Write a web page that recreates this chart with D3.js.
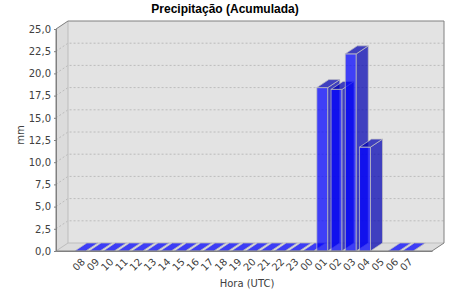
<!DOCTYPE html>
<html lang="pt">
<head>
<meta charset="UTF-8">
<title>Precipitação (Acumulada)</title>
<script src="https://d3js.org/d3.v7.min.js"></script>
<style>
  body { margin: 0; background: #fff; }
  svg text { font-family: "DejaVu Sans", sans-serif; }
</style>
</head>
<body>
<div id="chart"></div>
<script>
const horas = ["08","09","10","11","12","13","14","15","16","17","18","19","20","21","22","23","00","01","02","03","04","05","06","07"];
// 05 has no value (nothing drawn)
const precip = [0,0,0,0,0,0,0,0,0,0,0,0,0,0,0,0,0,18.4,18.2,22.2,11.7,null,0,0];
const yTicks = [0,2.5,5,7.5,10,12.5,15,17.5,20,22.5,25];

const W = 450, H = 300;
const dx = 12, dy = 8;                 // 3D offset
const pLeft = 56, pRight = 444, pTop = 21, pBottom = 251;

const svg = d3.select("#chart").append("svg")
    .attr("width", W)
    .attr("height", H);

const x = d3.scaleBand()
    .domain(horas)
    .range([pLeft, pRight - dx])
    .paddingInner(0.23)
    .paddingOuter(1.32);

const y = d3.scaleLinear()
    .domain([0, 25])
    .range([pBottom, pTop + dy]);

const pts = p => p.map(d => d.join(",")).join(" ");

// back wall, left wall, floor
svg.append("polygon")
    .attr("points", pts([[pLeft, pTop + dy], [pLeft + dx, pTop], [pRight, pTop], [pRight, pBottom - dy], [pRight - dx, pBottom], [pLeft, pBottom]]))
    .attr("fill", "#e3e3e3");
svg.append("polygon")
    .attr("points", pts([[pLeft, pTop + dy], [pLeft + dx, pTop], [pLeft + dx, pBottom - dy], [pLeft, pBottom]]))
    .attr("fill", "#dcdcdc");
svg.append("polygon")
    .attr("points", pts([[pLeft, pBottom], [pLeft + dx, pBottom - dy], [pRight, pBottom - dy], [pRight - dx, pBottom]]))
    .attr("fill", "#dcdcdc");

// gridlines on the back wall
svg.append("g").selectAll("path")
    .data(yTicks.filter(d => d > 0 && d < 25))
    .join("path")
    .attr("d", d => `M${pLeft},${y(d)}L${pLeft + dx},${y(d) - dy}L${pRight},${y(d) - dy}`)
    .attr("fill", "none")
    .attr("stroke", "#bcbcbc")
    .attr("stroke-dasharray", "2,2");

// inner edges
svg.append("path")
    .attr("d", `M${pLeft},${pBottom}L${pLeft + dx},${pBottom - dy}L${pRight},${pBottom - dy}M${pLeft + dx},${pTop}L${pLeft + dx},${pBottom - dy}`)
    .attr("fill", "none")
    .attr("stroke", "#bdbdbd");

// bars
const alpha = 0.72;
const bw = x.bandwidth();
const bars = svg.append("g");
horas.forEach((h, i) => {
    const v = precip[i];
    if (v === null) return;
    const x0 = x(h), x1 = x0 + bw;
    const yb = y(0), yt = y(v);
    const g = bars.append("g")
        .attr("stroke", "#c0c0c0")
        .attr("stroke-opacity", alpha)
        .attr("stroke-width", 1);
    g.append("rect")
        .attr("x", x0).attr("y", yt)
        .attr("width", bw).attr("height", yb - yt)
        .attr("fill", "#0000ff").attr("fill-opacity", alpha);
    g.append("polygon")
        .attr("points", pts([[x1, yb], [x1, yt], [x1 + dx, yt - dy], [x1 + dx, yb - dy]]))
        .attr("fill", "#0000b2").attr("fill-opacity", alpha);
    // flat (zero) bars show up as bright stripes on the floor
    g.append("polygon")
        .attr("points", pts([[x0, yt], [x0 + dx, yt - dy], [x1 + dx, yt - dy], [x1, yt]]))
        .attr("fill", v > 0 ? "#0000b2" : "#0000ff").attr("fill-opacity", alpha);
});

// outline
svg.append("polygon")
    .attr("points", pts([[pLeft, pTop + dy], [pLeft + dx, pTop], [pRight, pTop], [pRight, pBottom - dy], [pRight - dx, pBottom], [pLeft, pBottom]]))
    .attr("fill", "none")
    .attr("stroke", "#808080");

// value axis
const yAxis = svg.append("g")
    .attr("transform", `translate(${pLeft},0)`)
    .call(d3.axisLeft(y)
        .tickValues(yTicks)
        .tickFormat(d => d3.format(".1f")(d).replace(".", ","))
        .tickSize(2)
        .tickPadding(3));
yAxis.select(".domain").attr("stroke", "#808080");
yAxis.selectAll(".tick line").attr("stroke", "#808080");
yAxis.selectAll("text")
    .attr("font-size", 10)
    .attr("fill", "#404040")
    .style("font-family", "DejaVu Sans, sans-serif");

// category axis
const xAxis = svg.append("g")
    .attr("transform", `translate(0,${pBottom})`)
    .call(d3.axisBottom(x).tickSize(0).tickSizeOuter(0));
xAxis.select(".domain").attr("stroke", "#808080");
xAxis.selectAll("text")
    .attr("x", 0).attr("y", 0)
    .attr("dy", "0.35em")
    .attr("text-anchor", "end")
    .attr("transform", "translate(3,9) rotate(-45)")
    .attr("font-size", 10)
    .attr("fill", "#404040")
    .style("font-family", "DejaVu Sans, sans-serif");

// axis titles
svg.append("text")
    .attr("x", 247).attr("y", 287)
    .attr("text-anchor", "middle")
    .attr("font-size", 10)
    .attr("fill", "#404040")
    .text("Hora (UTC)");

svg.append("text")
    .attr("transform", "translate(23.5,135) rotate(-90)")
    .attr("text-anchor", "middle")
    .attr("font-size", 10)
    .attr("fill", "#404040")
    .text("mm");

// title
svg.append("text")
    .attr("x", 225).attr("y", 13)
    .attr("text-anchor", "middle")
    .attr("font-size", 12)
    .attr("font-weight", "bold")
    .style("font-family", "Liberation Sans, Arial, sans-serif")
    .attr("fill", "#000")
    .text("Precipitação (Acumulada)");
</script>
</body>
</html>
